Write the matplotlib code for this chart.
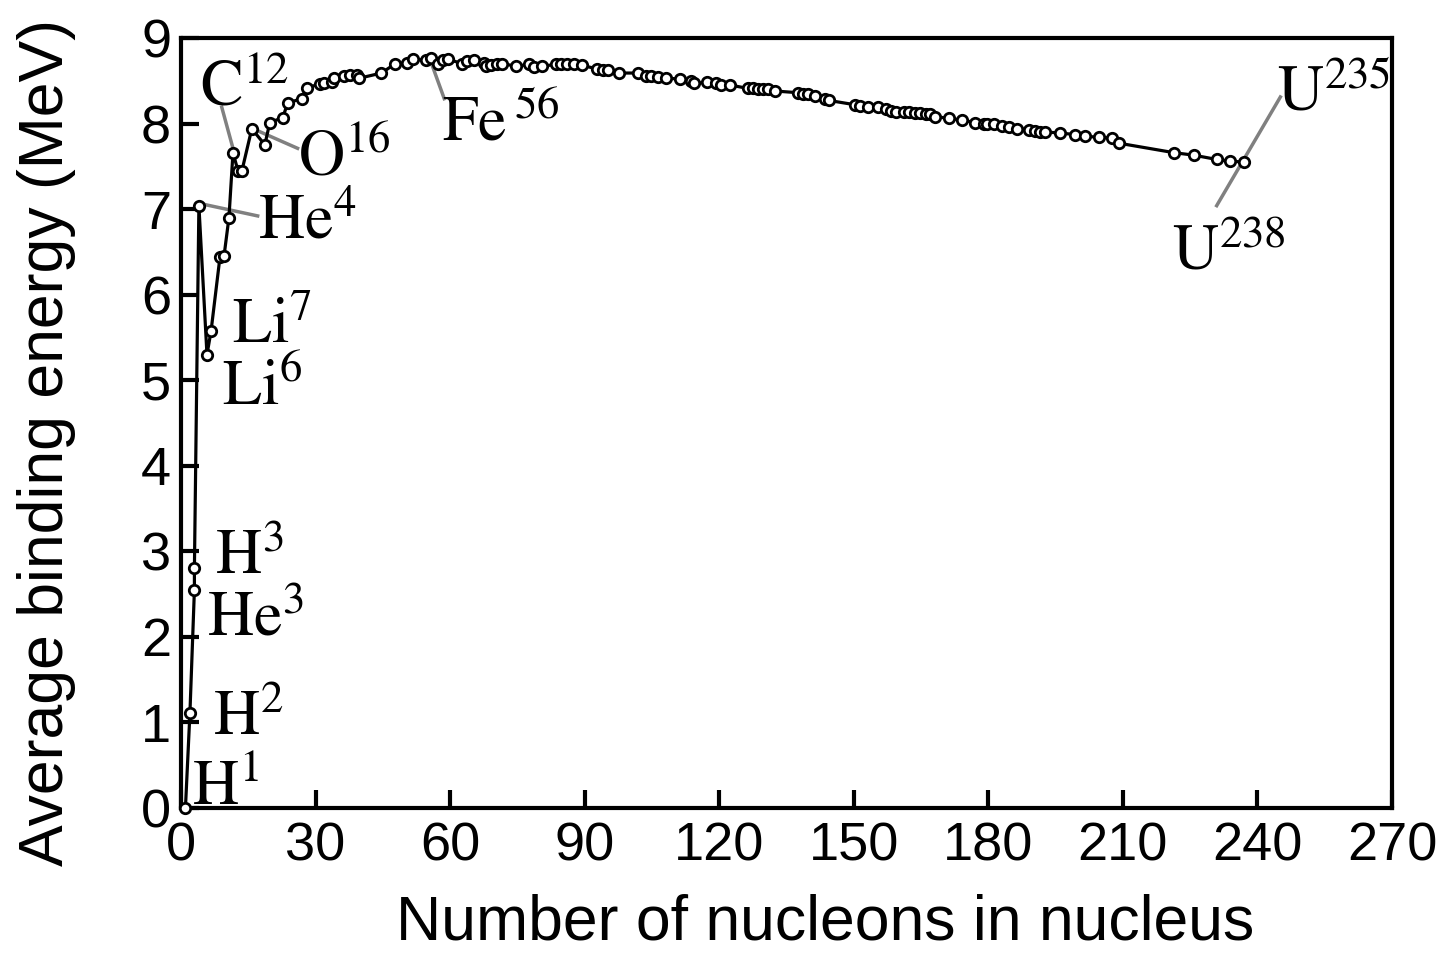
import matplotlib
matplotlib.use("Agg")
import matplotlib.pyplot as plt

# ---- data ----
nucleons = [1, 2, 3, 3, 4, 5.8, 6.7, 8.7, 9.6, 10.7, 11.6, 12.7, 13.6, 15.8, 18.7, 19.8,
            22.7, 23.8, 26.9, 28, 31.1, 31.8, 33.6,
            34.2, 36.4, 37.6, 39.3, 39.8, 44.7, 47.8, 50.4, 51.8, 54.7, 55.8, 57.3, 58.4, 59.6,
            62.7, 63.8, 65.3,
            67.6, 68, 69.1, 70.4, 71.6, 74.7, 77.6, 78.7, 80.4, 83.6, 84.7, 86, 87.6, 89.3,
            92.7, 94.2, 95.3, 97.6, 102, 103.6, 104.9, 106.4,
            108.2, 111.3, 113.6, 114.4, 117.3, 119.3, 120.4, 122.4, 126.4, 127.6, 128.7, 129.8,
            130.9, 132.4, 137.6, 138.7, 139.8, 141.3, 143.6, 144.4, 150.2,
            151.3, 153.1, 155.3, 157.1, 158.2, 159.3, 161.3, 162.4, 163.6, 164.7, 166, 167.1,
            168.2, 171.3, 174.2, 177.1, 179.1, 179.8, 181.3, 183.1, 184.7, 186.4, 189.1, 190.4,
            191.6, 192.7,
            196, 199.3, 201.6, 204.7, 207.6, 209.1, 221.3, 225.8, 230.9, 233.8, 236.9]
binding = [0.0, 1.11, 2.55, 2.80, 7.04, 5.30, 5.57, 6.44, 6.45, 6.90, 7.66, 7.45, 7.45, 7.94, 7.75, 8.01,
           8.07, 8.24, 8.29, 8.42, 8.46, 8.47, 8.48,
           8.53, 8.55, 8.57, 8.57, 8.53, 8.59, 8.70, 8.71, 8.75, 8.74, 8.77, 8.70, 8.74, 8.75,
           8.70, 8.73, 8.74,
           8.71, 8.67, 8.68, 8.69, 8.70, 8.67, 8.69, 8.66, 8.67, 8.69, 8.69, 8.70, 8.70, 8.68,
           8.64, 8.63, 8.62, 8.59, 8.59, 8.55, 8.55, 8.54,
           8.53, 8.52, 8.50, 8.47, 8.48, 8.47, 8.45, 8.45, 8.41, 8.41, 8.40, 8.40,
           8.40, 8.38, 8.36, 8.35, 8.34, 8.32, 8.29, 8.27, 8.22,
           8.20, 8.19, 8.19, 8.17, 8.15, 8.14, 8.13, 8.13, 8.12, 8.12, 8.11, 8.11,
           8.08, 8.06, 8.04, 8.01, 8.00, 7.99, 7.99, 7.97, 7.96, 7.94, 7.93, 7.91,
           7.90, 7.90,
           7.89, 7.87, 7.85, 7.84, 7.83, 7.77, 7.66, 7.63, 7.58, 7.56, 7.55]

labels = ["H", "H", "He", "H", "He", "Li", "Li", "C", "O", "Fe", "U", "U"]
mass_numbers = ["1", "2", "3", "3", "4", "6", "7", "12", "16", "56", "235", "238"]

x_ticks = [0, 30, 60, 90, 120, 150, 180, 210, 240, 270]
y_ticks = [0, 1, 2, 3, 4, 5, 6, 7, 8, 9]

plt.rcParams["mathtext.fontset"] = "stix"

fig = plt.figure(figsize=(14.43, 9.56), dpi=100)
ax = fig.add_axes([0.1254, 0.1548, 0.8393, 0.8055])

ax.plot(nucleons, binding, color="black", lw=2.3, marker="o", markersize=7.5,
        markerfacecolor="white", markeredgecolor="black", markeredgewidth=2.0,
        zorder=3, clip_on=False)

# label positions (left x, baseline y in data coords)
label_pos = [(2.4, 0.04), (7.1, 0.85), (5.8, 2.02), (7.6, 2.74), (17.1, 6.66),
             (9.1, 4.71), (11.3, 5.44), (4.2, 8.21), (26.0, 7.39), (58.2, 7.80),
             (244.3, 8.15), (220.9, 6.29)]
for name, num, (lx, ly) in zip(labels, mass_numbers, label_pos):
    sep = r"\," if name == "Fe" else ""
    ax.text(lx, ly, r"$\mathrm{%s}%s^{%s}$" % (name, sep, num), fontsize=46,
            ha="left", va="baseline", color="black", zorder=5)

# leader lines
leaders = [((9.1, 8.19), (11.6, 7.71)),
           ((16.9, 7.92), (26.0, 7.71)),
           ((3.8, 7.07), (17.1, 6.92)),
           ((55.8, 8.71), (58.7, 8.29)),
           ((245.1, 8.31), (230.9, 7.04))]
for (x0, y0), (x1, y1) in leaders:
    ax.plot([x0, x1], [y0, y1], color="#808080", lw=2.5, zorder=2)

ax.set_xlim(0, 270)
ax.set_ylim(0, 9)
ax.set_xticks(x_ticks)
ax.set_yticks(y_ticks)
ax.tick_params(direction="in", length=13, width=3, labelsize=39, pad=10)
ax.tick_params(axis="y", pad=7)
for t in ax.get_xticklabels() + ax.get_yticklabels():
    t.set_fontfamily("Liberation Sans")
for s in ax.spines.values():
    s.set_linewidth(3)

fig.text(825 / 1443, 1 - 923 / 956, "Number of nucleons in nucleus", fontsize=45,
         family="Liberation Sans", ha="center", va="center")
fig.text(47 / 1443, 1 - 443 / 956, "Average binding energy (MeV)", fontsize=45,
         family="Liberation Sans", ha="center", va="center", rotation=90)

fig.savefig("out.png", dpi=100)
